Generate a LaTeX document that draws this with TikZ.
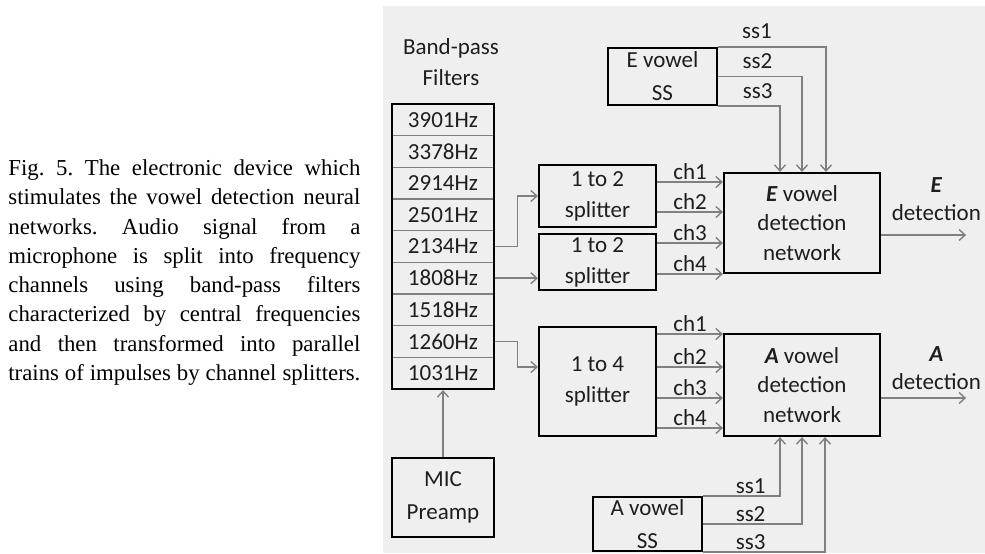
\documentclass[tikz,border=0pt]{standalone}
\usepackage{fontspec}
\setmainfont{Liberation Serif}
\newfontfamily\diafont{Carlito}
\usetikzlibrary{arrows.meta,calc,positioning}
\definecolor{cPanel}{HTML}{EFEFEF}
\definecolor{cWire}{HTML}{808080}
\definecolor{cInk}{HTML}{1E1E1E}
\definecolor{cEdge}{HTML}{000000}

% one justified caption line
\newcommand{\capline}[1]{\makebox[176pt][s]{#1}}

\begin{document}
\begin{tikzpicture}[
  x=0.5pt, y=-0.5pt,
  font=\diafont\fontsize{11.5}{15.5}\selectfont,
  text=cInk,
  sig/.style={draw=cWire, line width=0.7pt,
    -{Straight Barb[length=3pt,width=5.5pt]}},
  blk/.style={draw=cEdge, line width=1.1pt, inner sep=0pt, align=center},
  blkwide/.style={blk, font=\diafont\fontsize{11.5}{16.5}\selectfont},
  netbox/.style={blk, minimum width=78pt,
    font=\diafont\fontsize{11.5}{14.8}\selectfont},
  frow/.style={draw=cWire, line width=0.6pt, minimum width=51pt,
    minimum height=15.83pt, inner sep=0pt},
  chlab/.style={inner sep=1pt},
  sslab/.style={inner sep=3.6pt},
  outlab/.style={align=center, inner sep=0pt,
    font=\diafont\fontsize{11.5}{14}\selectfont},
]

% ---- Backdrop ----
\useasboundingbox (0,0) rectangle (985,553);
\fill[cPanel] (383,6) rectangle (985,553);

% ---- Caption ----
\node[anchor=west, align=left, inner sep=0pt, text=black,
  font=\rmfamily\frenchspacing\fontsize{11.4}{14.65}\selectfont] (caption) at (8,272.5)
  {\capline{Fig. 5. The electronic device which}\\
   \capline{stimulates the vowel detection neural}\\
   \capline{networks. Audio signal from a}\\
   \capline{microphone is split into frequency}\\
   \capline{channels using band-pass filters}\\
   \capline{characterized by central frequencies}\\
   \capline{and then transformed into parallel}\\
   \capline{trains of impulses by channel splitters.}};

% ---- Band-pass filter bank ----
\node[align=center] (bplab) at (451,62) {Band-pass\\Filters};
\foreach \fq [count=\i] in {3901,3378,2914,2501,2134,1808,1518,1260,1031}
  \node[frow] (f\i) at (443,{104+31.67*(\i-0.5)}) {\fq Hz};
\node[blk, minimum width=51pt, minimum height=142.5pt] (bank) at (443,246.5) {};

% ---- Blocks ----
\node[blkwide, minimum width=51pt, minimum height=39.5pt] (mic) at (443,497.5) {MIC\\Preamp};
\node[blk, minimum width=58.5pt, minimum height=31pt] (splA) at (597.5,196) {1 to 2\\splitter};
\node[blk, minimum width=58.5pt, minimum height=28pt] (splB) at (597.5,262) {1 to 2\\splitter};
\node[blk, minimum width=58.5pt, minimum height=54.5pt] (splC) at (597.5,381.5) {1 to 4\\splitter};
\node[netbox, minimum height=50pt] (eNet) at (802,223)
  {\textbf{\textit{E}} vowel\\detection\\network};
\node[netbox, minimum height=51pt] (aNet) at (802,385)
  {\textbf{\textit{A}} vowel\\detection\\network};
\node[blkwide, minimum width=54.5pt, minimum height=28.5pt] (eSS) at (662.5,76.5) {E vowel\\SS};
\node[blkwide, minimum width=54.5pt, minimum height=27pt] (aSS) at (647.5,524) {A vowel\\SS};

% ---- Filter taps ----
\draw[sig] (mic.north) -- (bank.south);
\draw[sig] (f5.east) -- ++(23,0) |- (splA.west);
\draw[sig] (f6.east) -- (f6.east -| splB.west);
\draw[sig] (f8.east) -- ++(23,0) |- ($(splC.west)+(0,-14.5)$);

% ---- Channels ----
\foreach \src/\dy/\lab in {splA/7pt/ch1, splA/-8pt/ch2, splB/9.5pt/ch3, splB/-6pt/ch4}
  \draw[sig] ([yshift=\dy]\src.east) -- ([yshift=\dy]\src.east -| eNet.west)
    node[midway, above, chlab] {\lab};
\foreach \dy/\lab in {23.75pt/ch1, 7.25pt/ch2, -8.25pt/ch3, -23.25pt/ch4}
  \draw[sig] ([yshift=\dy]splC.east) -- ([yshift=\dy]splC.east -| aNet.west)
    node[midway, above, chlab] {\lab};

% ---- SS inputs ----
\draw[sig] (eSS.north east) -| ([xshift=12pt]eNet.north) node[pos=0.18, above, sslab] {ss1};
\draw[sig] (eSS.east) -| (eNet.north) node[pos=0.235, above, sslab] {ss2};
\draw[sig] (eSS.south east) -| ([xshift=-11pt]eNet.north) node[pos=0.32, above, sslab] {ss3};

\draw[sig] (aSS.north east) -| ([xshift=-11pt]aNet.south) node[pos=0.31, above, chlab] {ss1};
\draw[sig] (aSS.east) -| (aNet.south) node[pos=0.24, above, chlab] {ss2};
\draw[sig] (aSS.south east) -| ([xshift=11.5pt]aNet.south) node[pos=0.195, above, chlab] {ss3};

% ---- Outputs ----
\draw[sig] ([yshift=-6pt]eNet.east) -- ++(85,0)
  node[outlab, pos=0.65, above=7pt] {\textbf{\textit{E}}\\detection};
\draw[sig] ([yshift=-6.5pt]aNet.east) -- ++(85,0)
  node[outlab, pos=0.65, above=4pt] {\textbf{\textit{A}}\\detection};

\end{tikzpicture}
\end{document}
